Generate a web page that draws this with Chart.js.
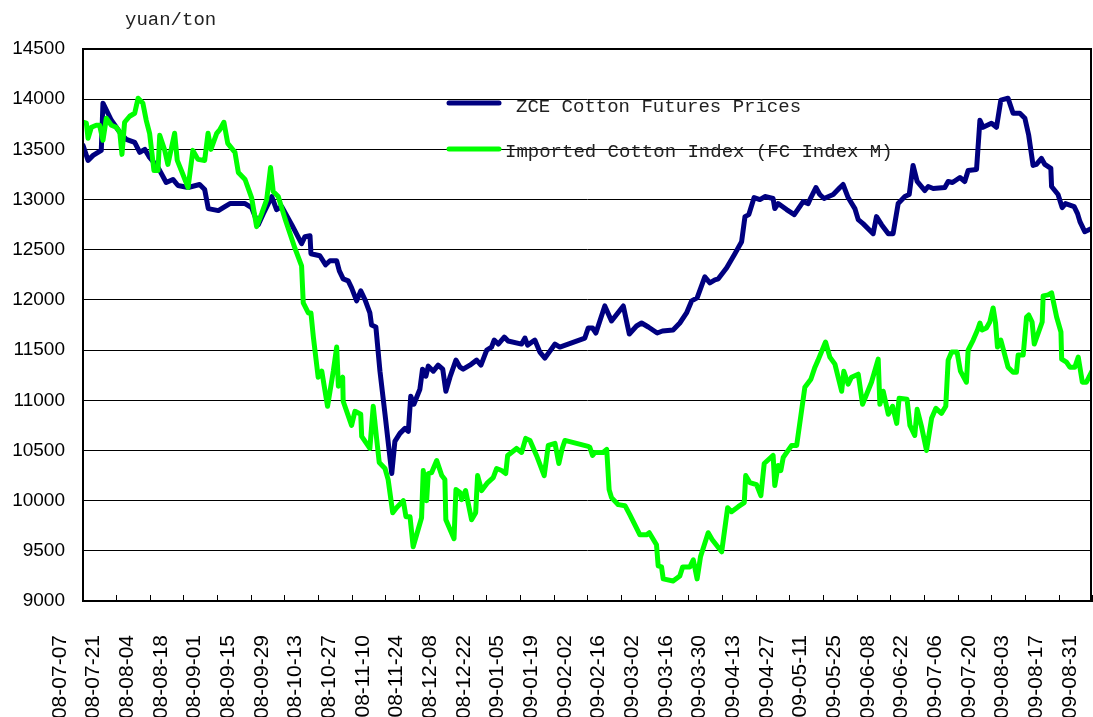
<!DOCTYPE html>
<html>
<head>
<meta charset="utf-8">
<script src="https://cdn.jsdelivr.net/npm/chart.js@4.4.0/dist/chart.umd.min.js"></script>
<style>
  html, body { margin: 0; padding: 0; background: #fff; overflow: hidden; }
</style>
</head>
<body>
<canvas id="price" width="1093" height="717"></canvas>
<script>
// x = days from the left edge of the plot, y = yuan/ton
const tickLabels = ['2008-07-07','2008-07-21','2008-08-04','2008-08-18','2008-09-01','2008-09-15','2008-09-29',
  '2008-10-13','2008-10-27','2008-11-10','2008-11-24','2008-12-08','2008-12-22','2009-01-05','2009-01-19',
  '2009-02-02','2009-02-16','2009-03-02','2009-03-16','2009-03-30','2009-04-13','2009-04-27','2009-05-11',
  '2009-05-25','2009-06-08','2009-06-22','2009-07-06','2009-07-20','2009-08-03','2009-08-17','2009-08-31'];

const zceDay = [0,2.1,4.2,7.6,8.3,11.8,15.3,18.0,21.5,23.6,
  25.7,27.7,31.2,34.6,37.4,39.5,43.7,48.5,50.6,52.1,
  56.3,59.0,61.1,67.4,70.1,72.9,75.0,78.5,80.5,82.6,
  86.8,90.9,92.3,94.4,94.8,98.5,100.9,102.7,105.5,106.6,
  108.2,110.3,111.7,113.8,115.5,117.3,119.3,120.0,121.8,123.5,
  125.6,128.4,129.7,131.8,133.9,135.3,136.3,137.6,140.1,141.2,
  142.6,143.6,145.7,147.7,149.6,150.9,152.6,155.1,156.8,158.1,
  160.9,163.7,165.5,167.9,169.9,171.0,172.7,175.2,176.8,182.4,
  183.8,184.9,187.9,190.0,192.1,196.3,198.3,208.7,210.1,211.9,
  213.3,217.0,219.8,224.7,227.2,230.2,232.3,235.1,238.8,241.0,
  245.4,248.2,251.0,253.1,255.4,258.6,260.7,262.8,264.2,267.7,
  271.1,273.9,275.3,276.9,279.1,281.5,283.6,287.0,287.7,289.1,
  292.6,295.8,299.5,301.6,302.7,304.8,306.4,308.2,312.0,314.8,
  316.1,318.2,321.0,322.4,324.4,328.6,330.0,332.1,334.9,336.9,
  339.0,341.8,343.6,345.2,346.9,350.1,351.5,353.6,358.4,359.8,
  361.6,364.7,366.7,368.1,371.6,373.0,374.3,377.8,379.9,381.7,
  384.7,386.8,389.6,391.7,393.3,395.1,396.5,398.6,400.0,402.5,
  402.8,405.5,407.2,408.6,412.2,413.6,414.6,416.6,419.4];
const zcePrice = [13540,13390,13440,13490,13960,13790,13670,13600,13570,13470,
  13500,13420,13320,13170,13200,13140,13120,13150,13100,12910,
  12890,12930,12960,12960,12920,12750,12860,13030,12900,12930,
  12750,12560,12630,12640,12460,12440,12350,12390,12390,12290,
  12210,12190,12120,11990,12090,12000,11870,11750,11730,11290,
  10860,10270,10590,10670,10720,10690,11040,10960,11110,11310,
  11240,11340,11290,11350,11310,11090,11230,11400,11330,11310,
  11350,11400,11350,11500,11530,11600,11560,11630,11590,11560,
  11620,11550,11600,11480,11420,11560,11530,11620,11720,11720,
  11670,11940,11790,11940,11660,11740,11770,11730,11670,11690,
  11700,11770,11870,11990,12020,12230,12170,12200,12210,12320,
  12460,12580,12830,12850,13020,13000,13030,13010,12910,12960,
  12900,12850,12980,12960,13020,13120,13050,13010,13050,13120,
  13150,13020,12910,12800,12760,12660,12830,12750,12660,12660,
  12960,13030,13050,13340,13180,13090,13130,13110,13120,13180,
  13170,13220,13180,13290,13300,13790,13720,13760,13720,13990,
  14010,13860,13860,13810,13640,13340,13350,13410,13350,13310,
  13130,13050,12920,12960,12930,12860,12780,12680,12710];

const fcDay = [0,1.4,2.1,3.5,5.5,6.9,8.3,9.7,11.8,13.8,
  15.3,16.2,17.3,19.4,21.5,22.9,24.9,26.3,27.7,29.5,
  31.2,31.9,34.0,35.3,38.1,39.2,40.9,43.7,45.7,47.8,
  50.6,52.0,53.2,55.6,57.0,58.6,60.2,63.2,64.6,67.4,
  70.1,72.2,74.3,76.4,78.0,79.1,81.2,84.0,88.2,90.9,
  91.6,93.7,94.8,95.8,97.8,99.3,101.7,104.1,105.5,106.2,
  108.0,108.2,111.7,113.1,115.5,115.9,119.3,120.7,122.1,123.2,
  125.6,126.9,128.8,130.4,133.2,134.3,136.0,137.3,140.8,141.5,
  142.9,143.6,145.0,147.1,149.2,150.5,150.9,154.3,155.1,156.8,
  157.5,159.1,161.6,163.3,164.1,165.8,168.3,170.6,172.0,174.1,
  175.8,176.6,180.3,182.4,184.1,185.9,188.6,191.8,193.5,196.3,
  197.9,199.3,200.4,210.1,210.8,211.9,212.9,216.3,217.8,218.8,
  219.8,222.6,225.4,227.4,231.6,234.4,235.5,238.5,239.2,240.6,
  241.3,245.4,248.2,249.4,252.4,253.8,255.4,256.8,260.0,261.7,
  265.6,268.1,269.7,272.5,275.0,275.6,277.3,280.1,281.9,283.3,
  287.0,287.7,289.1,290.2,291.2,294.7,296.8,300.2,302.7,304.4,
  305.7,308.8,310.6,312.7,315.5,316.4,318.2,319.6,322.4,324.2,
  327.9,330.7,331.4,332.8,334.9,336.7,338.4,339.4,342.7,343.9,
  345.9,346.9,348.7,350.8,352.9,354.7,357.0,358.8,359.8,361.2,
  363.5,364.9,367.4,368.1,370.2,372.0,373.0,373.9,375.7,377.1,
  378.5,379.5,380.3,381.7,384.7,386.8,388.2,388.9,391.0,392.4,
  393.3,394.7,395.6,398.9,399.3,401.4,402.8,404.9,406.7,407.0,
  409.0,410.4,412.5,413.9,415.6,417.3,419.6];
const fcPrice = [13770,13760,13610,13720,13740,13740,13590,13810,13740,13720,
  13670,13450,13770,13830,13860,14010,13960,13790,13660,13290,
  13290,13640,13490,13350,13660,13390,13290,13120,13490,13400,
  13390,13660,13500,13660,13700,13770,13560,13470,13270,13200,
  13020,12730,12860,13000,13320,13080,13030,12810,12510,12340,
  11970,11870,11870,11630,11230,11290,10940,11290,11530,11140,
  11230,10990,10750,10890,10860,10640,10520,10940,10620,10380,
  10320,10210,9880,9930,10000,9840,9840,9540,9830,10300,
  10000,10270,10280,10400,10250,10210,9810,9620,10110,10080,
  10010,10100,9810,9880,10250,10100,10180,10230,10320,10300,
  10270,10450,10520,10480,10620,10600,10450,10250,10550,10570,
  10370,10520,10600,10540,10530,10450,10480,10480,10510,10110,
  10030,9960,9950,9860,9660,9660,9680,9560,9350,9340,
  9220,9200,9250,9340,9340,9410,9220,9440,9680,9610,
  9490,9930,9890,9940,9980,10250,10180,10160,10050,10370,
  10450,10150,10350,10300,10430,10550,10550,11130,11210,11330,
  11400,11580,11430,11360,11090,11290,11160,11230,11260,10960,
  11180,11410,10960,11090,10860,10940,10770,11020,11010,10750,
  10650,10910,10740,10500,10820,10920,10870,10940,11400,11480,
  11480,11290,11180,11500,11600,11700,11770,11700,11720,11780,
  11920,11770,11530,11600,11330,11280,11280,11450,11450,11830,
  11850,11780,11560,11780,12040,12050,12070,11830,11680,11410,
  11380,11330,11330,11430,11180,11180,11290];

const seriesNames = ['ZCE Cotton Futures Prices', 'Imported Cotton Index (FC Index M)'];
const unitLabel = 'yuan/ton';

const sansFont = "'Liberation Sans', Arial, sans-serif";
const monoFont = "'Liberation Mono', 'Courier New', monospace";

// black frame round the plot
const plotFrame = {
  id: 'plotFrame',
  afterDraw(chart) {
    const {ctx, chartArea: a} = chart;
    ctx.save();
    ctx.strokeStyle = '#000';
    ctx.lineWidth = 2;
    ctx.strokeRect(a.left, a.top, a.right - a.left, a.bottom - a.top);
    ctx.restore();
  }
};

// legend sits inside the plot, no box
const innerLegend = {
  id: 'innerLegend',
  afterDraw(chart) {
    const ctx = chart.ctx;
    const rows = [{y: 103, tx: 516, ty: 107}, {y: 149, tx: 505, ty: 152}];
    ctx.save();
    ctx.font = '19px ' + monoFont;
    ctx.fillStyle = '#222';
    ctx.textBaseline = 'middle';
    chart.data.datasets.forEach((ds, i) => {
      const r = rows[i];
      ctx.strokeStyle = ds.borderColor;
      ctx.lineWidth = 5;
      ctx.lineCap = 'round';
      ctx.beginPath();
      ctx.moveTo(449, r.y);
      ctx.lineTo(499, r.y);
      ctx.stroke();
      ctx.fillText(ds.label, r.tx, r.ty);
    });
    ctx.fillText(unitLabel, 125, 20);
    ctx.restore();
  }
};

let canvas = document.getElementById('price');

const myChart = new Chart(canvas, {
  type: 'line',
  data: {
    datasets: [
      {
        label: seriesNames[0],
        data: zceDay.map((d, i) => ({x: d, y: zcePrice[i]})),
        borderColor: '#000080',
        borderWidth: 5,
        pointRadius: 0,
        borderJoinStyle: 'round',
        borderCapStyle: 'round',
        order: 2,
      },
      {
        label: seriesNames[1],
        data: fcDay.map((d, i) => ({x: d, y: fcPrice[i]})),
        borderColor: '#00ff00',
        borderWidth: 5,
        pointRadius: 0,
        borderJoinStyle: 'round',
        borderCapStyle: 'round',
        order: 1,
      },
    ],
  },
  options: {
    responsive: false,
    devicePixelRatio: 1,
    animation: false,
    layout: {padding: {top: 49, right: 2, left: 0, bottom: 0}},
    plugins: {legend: {display: false}, tooltip: {enabled: false}},
    scales: {
      x: {
        type: 'linear',
        min: 0,
        max: 419.2,
        bounds: 'data',
        afterBuildTicks: s => { s.ticks = tickLabels.map((t, i) => ({value: i * 14})); },
        afterFit: s => { s.height = 116; s.paddingLeft = 0; s.paddingRight = 0; },
        grid: {drawOnChartArea: false, tickLength: -6, color: '#000', tickColor: '#000', lineWidth: 1},
        border: {color: '#000', width: 2},
        ticks: {
          autoSkip: false,
          minRotation: 90,
          maxRotation: 90,
          labelOffset: -23,
          padding: 40,
          color: '#000',
          font: {family: sansFont, size: 21},
          callback: (v, i) => tickLabels[i],
        },
      },
      y: {
        min: 9000,
        max: 14500,
        afterFit: s => { s.width = 83; },
        grid: {color: '#000', lineWidth: 1, drawTicks: false},
        border: {color: '#000', width: 2},
        ticks: {
          stepSize: 500,
          padding: 18,
          color: '#000',
          font: {family: sansFont, size: 19},
          callback: v => String(v),
        },
      },
    },
  },
  plugins: [plotFrame, innerLegend],
});
</script>
</body>
</html>
